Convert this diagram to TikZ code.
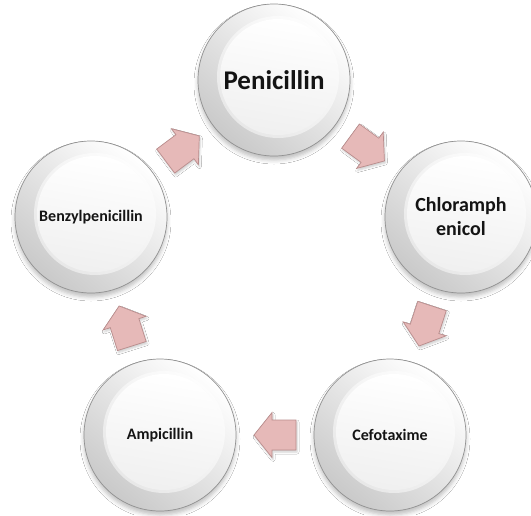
\documentclass[tikz,border=0pt]{standalone}
\usepackage{fontspec}
\setmainfont{Carlito}
\usetikzlibrary{shadows.blur}
\definecolor{arrfill}{RGB}{230,185,184}
\definecolor{arrdraw}{RGB}{185,140,140}
\definecolor{txt}{RGB}{20,20,20}
\definecolor{rimline}{RGB}{145,145,145}
\tikzset{
  btn/.style={circle, minimum size=152pt, inner sep=0pt, draw=rimline, line width=0.7pt,
    shading=axis, top color=white, bottom color=gray!42, shading angle=-40,
    blur shadow={shadow xshift=0pt, shadow yshift=-4pt, shadow blur radius=4pt, shadow opacity=25},
    path picture={
      \fill[white, opacity=0.5] ([xshift=4pt,yshift=3pt]path picture bounding box.center) circle (61pt);
      \shade[top color=white, bottom color=gray!12, shading angle=-10]
        ([xshift=4pt,yshift=3pt]path picture bounding box.center) circle (58pt);
    },
    font=\bfseries\fontsize{16}{19}\selectfont, text=txt, align=center},
  blockarrow/.pic={
    \filldraw[fill=arrfill, draw=arrdraw, line width=0.7pt, line join=miter,
      blur shadow={shadow xshift=1pt, shadow yshift=-2pt, shadow blur radius=2pt, shadow opacity=20}]
      (-21,-15) -- (3,-15) -- (3,-22.5) -- (21,0) -- (3,22.5) -- (3,15) -- (-21,15) -- cycle;
  }
}
\begin{document}
\begin{tikzpicture}[x=1pt,y=-1pt]
  \useasboundingbox[fill=white] (0,0) rectangle (531,515);
  \node[btn, font=\bfseries\fontsize{27}{32}\selectfont] (peni) at (274,80) {Penicillin};
  \node[btn, font=\bfseries\fontsize{20}{24}\selectfont] (chlo) at (461,217) {Chloramph\\enicol};
  \node[btn] (cefo) at (390,435) {Cefotaxime};
  \node[btn] (ampi) at (160,435) {Ampicillin};
  \node[btn] (benz) at (91,217) {Benzylpenicillin};
  \path (peni) -- (chlo) pic[midway, sloped, allow upside down] {blockarrow};
  \path (chlo) -- (cefo) pic[midway, sloped, allow upside down] {blockarrow};
  \path (cefo) -- (ampi) pic[midway, sloped, allow upside down] {blockarrow};
  \path (ampi) -- (benz) pic[midway, sloped, allow upside down] {blockarrow};
  \path (benz) -- (peni) pic[midway, sloped, allow upside down] {blockarrow};
\end{tikzpicture}
\end{document}
